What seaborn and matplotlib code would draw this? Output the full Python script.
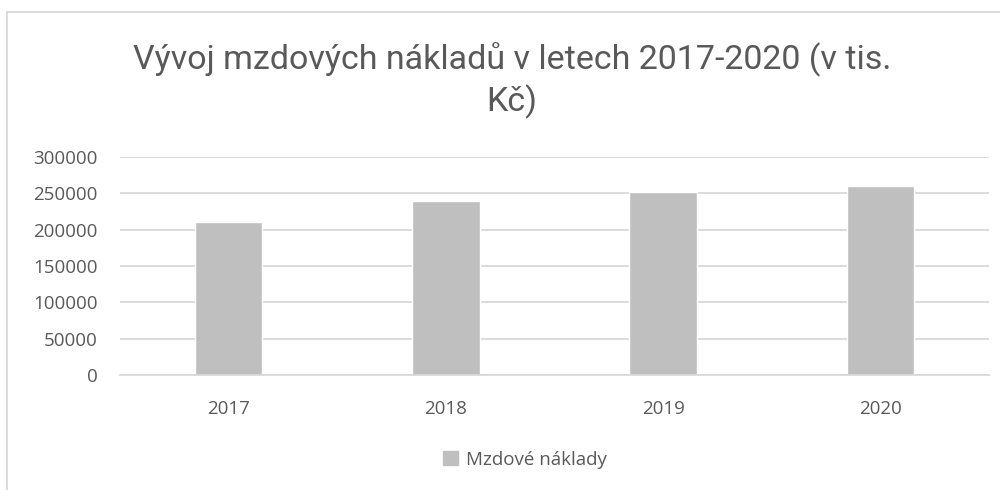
"""Vývoj mzdových nákladů 2017-2020 — sloupcový graf."""

import matplotlib

matplotlib.use("Agg")
import matplotlib.pyplot as plt
import pandas as pd
import seaborn as sns
from matplotlib.patches import Rectangle

ROKY = ["2017", "2018", "2019", "2020"]
NAKLADY = [210600, 239200, 252200, 260500]
SERIE = "Mzdové náklady"
TITULEK = "Vývoj mzdových nákladů v letech 2017-2020 (v tis.\nKč)"

SEDA_SLOUPEC = "#BFBFBF"
SEDA_TEXT = "#595959"
SEDA_MRIZKA = "#D9D9D9"


def main() -> None:
    df = pd.DataFrame({"rok": ROKY, "naklady": NAKLADY, "serie": SERIE})

    sns.set_style("white")
    plt.rcParams["font.family"] = ["Open Sans", "DejaVu Sans"]

    fig = plt.figure(figsize=(10, 4.9), dpi=100)
    ax = fig.add_axes([0.12, 115 / 490, 0.869, 218 / 490])

    sns.barplot(data=df, x="rok", y="naklady", hue="serie",
                palette=[SEDA_SLOUPEC], width=0.31, ax=ax, legend=False)

    ax.set_ylim(0, 300000)
    ax.set_yticks(range(0, 300001, 50000))
    ax.yaxis.grid(True, color=SEDA_MRIZKA, linewidth=1.3)
    ax.set_axisbelow(True)
    for strana in ["top", "right", "left"]:
        ax.spines[strana].set_visible(False)
    ax.spines["bottom"].set_color(SEDA_MRIZKA)
    ax.spines["bottom"].set_linewidth(1.3)
    ax.tick_params(length=0, labelsize=13.5, labelcolor=SEDA_TEXT)
    ax.tick_params(axis="x", pad=18)
    ax.tick_params(axis="y", pad=16)
    ax.set_xlabel("")
    ax.set_ylabel("")

    fig.text(0.512, 0.835, TITULEK, ha="center", va="center",
             fontsize=24.5, color=SEDA_TEXT, family=["Roboto", "DejaVu Sans"],
             linespacing=1.3)

    # legenda dole uprostřed
    fig.legend(handles=[Rectangle((0, 0), 1, 1, color=SEDA_SLOUPEC)],
               labels=[SERIE], loc="center", bbox_to_anchor=(0.525, 0.062),
               frameon=False, fontsize=13.5, labelcolor=SEDA_TEXT,
               handlelength=0.8, handleheight=0.8, handletextpad=0.4)

    # rámeček grafu
    fig.patches.append(Rectangle((7 / 1000, -0.1), 1.1, 1.1 - 12.5 / 490,
                                 transform=fig.transFigure, fill=False,
                                 edgecolor=SEDA_MRIZKA, linewidth=1.3))

    fig.savefig("out.png", dpi=100)
    plt.close(fig)


if __name__ == "__main__":
    main()
